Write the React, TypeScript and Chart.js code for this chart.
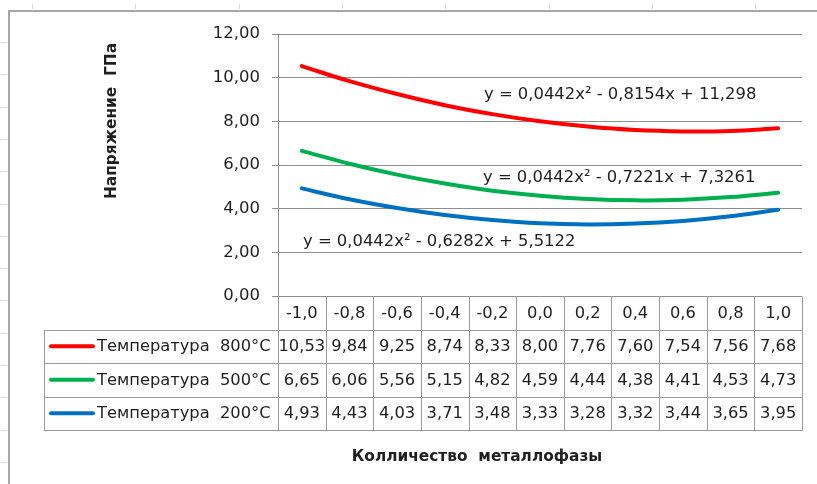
import React, { useEffect, useRef } from 'react';
import { Chart, registerables } from 'chart.js';

Chart.register(...registerables);

// ---- data ----
const categories = [-1.0, -0.8, -0.6, -0.4, -0.2, 0.0, 0.2, 0.4, 0.6, 0.8, 1.0];
const temp800 = [10.53, 9.84, 9.25, 8.74, 8.33, 8.0, 7.76, 7.6, 7.54, 7.56, 7.68];
const temp500 = [6.65, 6.06, 5.56, 5.15, 4.82, 4.59, 4.44, 4.38, 4.41, 4.53, 4.73];
const temp200 = [4.93, 4.43, 4.03, 3.71, 3.48, 3.33, 3.28, 3.32, 3.44, 3.65, 3.95];
const seriesNames = ['Температура  800°C', 'Температура  500°C', 'Температура  200°C'];
const trendEquations = [
  'y = 0,0442x² - 0,8154x + 11,298',
  'y = 0,0442x² - 0,7221x + 7,3261',
  'y = 0,0442x² - 0,6282x + 5,5122',
];
const yAxisTitle = 'Напряжение  ГПа';
const xAxisTitle = 'Колличество  металлофазы';
const yMin = 0;
const yMax = 12;
const yStep = 2;

// ---- styles ----
const colors = ['#FF0000', '#00B050', '#0070C0'];
const FONT = "'DejaVu Sans', sans-serif";
const TEXT = '#1f1f1f';
const GRID = '#8e8e8e';
const TABLE_LINE = '#9a9a9a';
const eqPos = [
  { x: 484, y: 95 },
  { x: 483, y: 178 },
  { x: 303, y: 242 },
];

const fmt2 = (v: number) => v.toFixed(2).replace('.', ',');
const fmt1 = (v: number) => v.toFixed(1).replace('.', ',');

const seriesValues = [temp800, temp500, temp200];

const decorPlugin = {
  id: 'decor',
  afterDraw(chart: any) {
    const ctx = chart.ctx as CanvasRenderingContext2D;
    const area = chart.chartArea;
    const xs = chart.scales.x;
    ctx.save();

    // spreadsheet grid remnants
    ctx.strokeStyle = '#d9d9d9';
    ctx.lineWidth = 1;
    for (let i = 0; i < 8; i++) {
      const x = Math.round(32 + i * 103.3) + 0.5;
      ctx.beginPath();
      ctx.moveTo(x, 4);
      ctx.lineTo(x, 9);
      ctx.stroke();
    }
    for (let i = 0; i < 14; i++) {
      const y = Math.round(42 + i * 32.3) + 0.5;
      ctx.beginPath();
      ctx.moveTo(0, y);
      ctx.lineTo(7, y);
      ctx.stroke();
    }
    // chart border
    ctx.strokeStyle = '#a6a6a6';
    ctx.lineWidth = 2;
    ctx.beginPath();
    ctx.moveTo(9, 484);
    ctx.lineTo(9, 11);
    ctx.lineTo(817, 11);
    ctx.stroke();

    // data table
    const n = categories.length;
    const colW = (area.right - area.left) / n;
    const rowTops = [area.bottom, area.bottom + 33.5, area.bottom + 67, area.bottom + 100.5, area.bottom + 134];
    const tableLeft = 44;
    ctx.strokeStyle = TABLE_LINE;
    ctx.lineWidth = 1;
    const px = (v: number) => Math.round(v) + 0.5;
    ctx.beginPath();
    for (let r = 1; r < rowTops.length; r++) {
      ctx.moveTo(tableLeft, px(rowTops[r]));
      ctx.lineTo(area.right, px(rowTops[r]));
    }
    ctx.moveTo(px(tableLeft), px(rowTops[1]));
    ctx.lineTo(px(tableLeft), px(rowTops[4]));
    for (let i = 0; i <= n; i++) {
      const xx = i === n ? px(xs.getPixelForValue(n - 1) + colW / 2) : px(xs.getPixelForValue(i) - colW / 2);
      ctx.moveTo(xx, px(rowTops[0]));
      ctx.lineTo(xx, px(rowTops[4]));
    }
    ctx.stroke();

    ctx.fillStyle = TEXT;
    ctx.font = `16.3px ${FONT}`;
    ctx.textAlign = 'center';
    ctx.textBaseline = 'middle';
    for (let i = 0; i < n; i++) {
      const cx = xs.getPixelForValue(i);
      ctx.fillText(fmt1(categories[i]), cx, (rowTops[0] + rowTops[1]) / 2 + 1);
      for (let s = 0; s < 3; s++) {
        ctx.fillText(fmt2(seriesValues[s][i]), cx, (rowTops[s + 1] + rowTops[s + 2]) / 2 + 1);
      }
    }
    for (let s = 0; s < 3; s++) {
      const cy = (rowTops[s + 1] + rowTops[s + 2]) / 2;
      ctx.strokeStyle = colors[s];
      ctx.lineWidth = 4;
      ctx.lineCap = 'round';
      ctx.beginPath();
      ctx.moveTo(51, cy);
      ctx.lineTo(93, cy);
      ctx.stroke();
      ctx.fillStyle = TEXT;
      ctx.textAlign = 'left';
      ctx.fillText(seriesNames[s], 97, cy + 1);
    }

    // trendline equations
    ctx.font = `16.4px ${FONT}`;
    ctx.textAlign = 'left';
    ctx.textBaseline = 'middle';
    ctx.fillStyle = TEXT;
    for (let s = 0; s < 3; s++) {
      ctx.fillText(trendEquations[s], eqPos[s].x, eqPos[s].y);
    }

    // axis titles
    ctx.font = `bold 15.4px ${FONT}`;
    ctx.textAlign = 'center';
    ctx.fillText(xAxisTitle, 477, 457);
    ctx.save();
    ctx.translate(112, 121);
    ctx.rotate(-Math.PI / 2);
    ctx.fillText(yAxisTitle, 0, 0);
    ctx.restore();

    ctx.restore();
  },
};

export default function App() {
  const ref = useRef<HTMLCanvasElement>(null);
  useEffect(() => {
    if (!ref.current) return;
    const chart = new Chart(ref.current, {
      type: 'line',
      data: {
        labels: categories.map(fmt1),
        datasets: seriesValues.map((vals, s) => ({
          label: seriesNames[s],
          data: vals,
          borderColor: colors[s],
          backgroundColor: colors[s],
          borderWidth: 4,
          pointRadius: 0,
          tension: 0.4,
          borderCapStyle: 'round' as const,
          fill: false,
        })),
      },
      options: {
        responsive: false,
        animation: false,
        devicePixelRatio: 1,
        layout: { padding: { left: 0, right: 15, top: 34, bottom: 188 } },
        plugins: {
          legend: { display: false },
          tooltip: { enabled: false },
          title: { display: false },
        },
        scales: {
          x: {
            type: 'category',
            offset: true,
            display: false,
          },
          y: {
            min: yMin,
            max: yMax,
            afterFit: (s: any) => {
              s.width = 278;
            },
            ticks: {
              stepSize: yStep,
              padding: 12,
              color: TEXT,
              font: { family: FONT, size: 16.5 },
              callback: (v: any) => fmt2(Number(v)),
            },
            grid: { color: GRID, tickLength: 6, drawTicks: true },
            border: { display: true, color: GRID },
          },
        },
      },
      plugins: [decorPlugin],
    });
    return () => chart.destroy();
  }, []);
  return (
    <div style={{ position: 'absolute', left: 0, top: 0, width: 817, height: 484, background: '#fff' }}>
      <canvas ref={ref} width={817} height={484} style={{ display: 'block' }} />
    </div>
  );
}
